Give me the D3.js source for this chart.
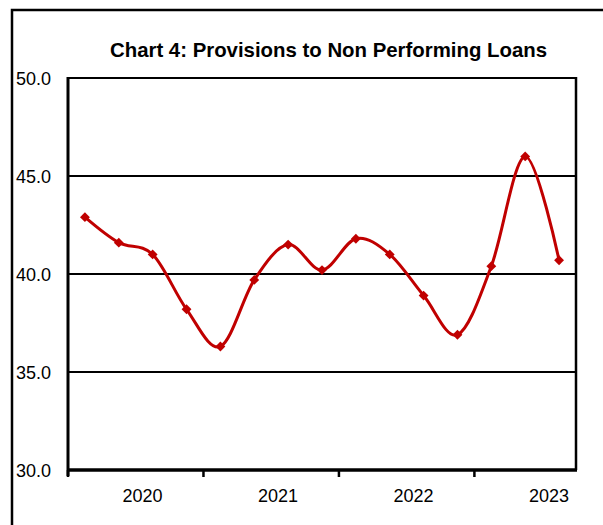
<!DOCTYPE html>
<html><head><meta charset="utf-8">
<script src="https://cdn.jsdelivr.net/npm/d3@7"></script>
<style>body{margin:0;background:#fff}svg{display:block}</style>
</head><body>
<script>
const quarters = ["Q4 2019","Q1 2020","Q2 2020","Q3 2020","Q4 2020","Q1 2021","Q2 2021","Q3 2021","Q4 2021","Q1 2022","Q2 2022","Q3 2022","Q4 2022","Q1 2023","Q2 2023"];
const values = [42.9, 41.6, 41.0, 38.2, 36.3, 39.7, 41.5, 40.2, 41.8, 41.0, 38.9, 36.9, 40.4, 46.0, 40.7];
const yearLabels = ["2020","2021","2022","2023"];
const yearStartIndex = [0, 4, 8, 12];
const yTicks = [30, 35, 40, 45, 50];
const title = "Chart 4: Provisions to Non Performing Loans";

const W = 603, H = 525;
const m = {left: 68, right: 576, top: 78, bottom: 470};
const svg = d3.select("body").append("svg").attr("width", W).attr("height", H);
const font = "Liberation Sans, Arial, sans-serif";

// outer frame (partial)
svg.append("path").attr("d", `M12,${H}V10H${W}`).attr("fill","none").attr("stroke","#000").attr("stroke-width",2.5);

const x = d3.scaleBand().domain(quarters).range([m.left, m.right]);
const y = d3.scaleLinear().domain([30, 50]).range([m.bottom, m.top]);

// gridlines
svg.append("g").selectAll("line").data(yTicks.filter(d => d > 30)).join("line")
  .attr("x1", m.left).attr("x2", m.right).attr("y1", d => y(d)).attr("y2", d => y(d))
  .attr("stroke", "#000").attr("stroke-width", 2);
// right border
svg.append("line").attr("x1", m.right).attr("x2", m.right).attr("y1", m.top - 1).attr("y2", m.bottom)
  .attr("stroke","#000").attr("stroke-width",2.5);

// y axis
const yAx = svg.append("g").attr("transform", `translate(${m.left},0)`)
  .call(d3.axisLeft(y).tickValues(yTicks).tickFormat(d3.format(".1f")).tickSize(0).tickPadding(17));
yAx.select(".domain").attr("stroke-width", 3).attr("d", `M0,${m.top - 1}V${m.bottom + 6}`);
yAx.selectAll("text").attr("font-family", font).attr("font-size", 18).attr("fill","#000").attr("dy","0.36em");

// x axis
const xAx = svg.append("g").attr("transform", `translate(0,${m.bottom})`);
xAx.append("line").attr("x1", m.left).attr("x2", m.right + 1).attr("stroke","#000").attr("stroke-width",3.5);
xAx.selectAll(".tk").data(yearStartIndex).join("line").attr("class","tk")
  .attr("x1", d => x(quarters[d])).attr("x2", d => x(quarters[d]))
  .attr("y1", 0).attr("y2", 7).attr("stroke","#000").attr("stroke-width",2.5);
xAx.selectAll("text").data(yearLabels).join("text")
  .attr("x", (d,i) => x(quarters[yearStartIndex[i] + 2]) + 0.2 * x.bandwidth())
  .attr("y", 32).attr("text-anchor","middle")
  .attr("font-family", font).attr("font-size", 18).attr("fill","#000").text(d => d);

// line
const cx = (d,i) => x(quarters[i]) + x.bandwidth()/2;
svg.append("path").datum(values)
  .attr("d", d3.line().x(cx).y(d => y(d)).curve(d3.curveCardinal.tension(0)))
  .attr("fill","none").attr("stroke","#c00000").attr("stroke-width",3);
svg.append("g").selectAll("path").data(values).join("path")
  .attr("d", d3.symbol(d3.symbolDiamond2, 62))
  .attr("transform", (d,i) => `translate(${cx(d,i)},${y(d)})`)
  .attr("fill","#c00000");

// title
svg.append("text").attr("x", 328.5).attr("y", 57).attr("text-anchor","middle")
  .attr("font-family", font).attr("font-weight","bold").attr("font-size", 21)
  .attr("textLength", 437).attr("lengthAdjust","spacingAndGlyphs")
  .attr("fill","#000").text(title);
</script>
</body></html>
